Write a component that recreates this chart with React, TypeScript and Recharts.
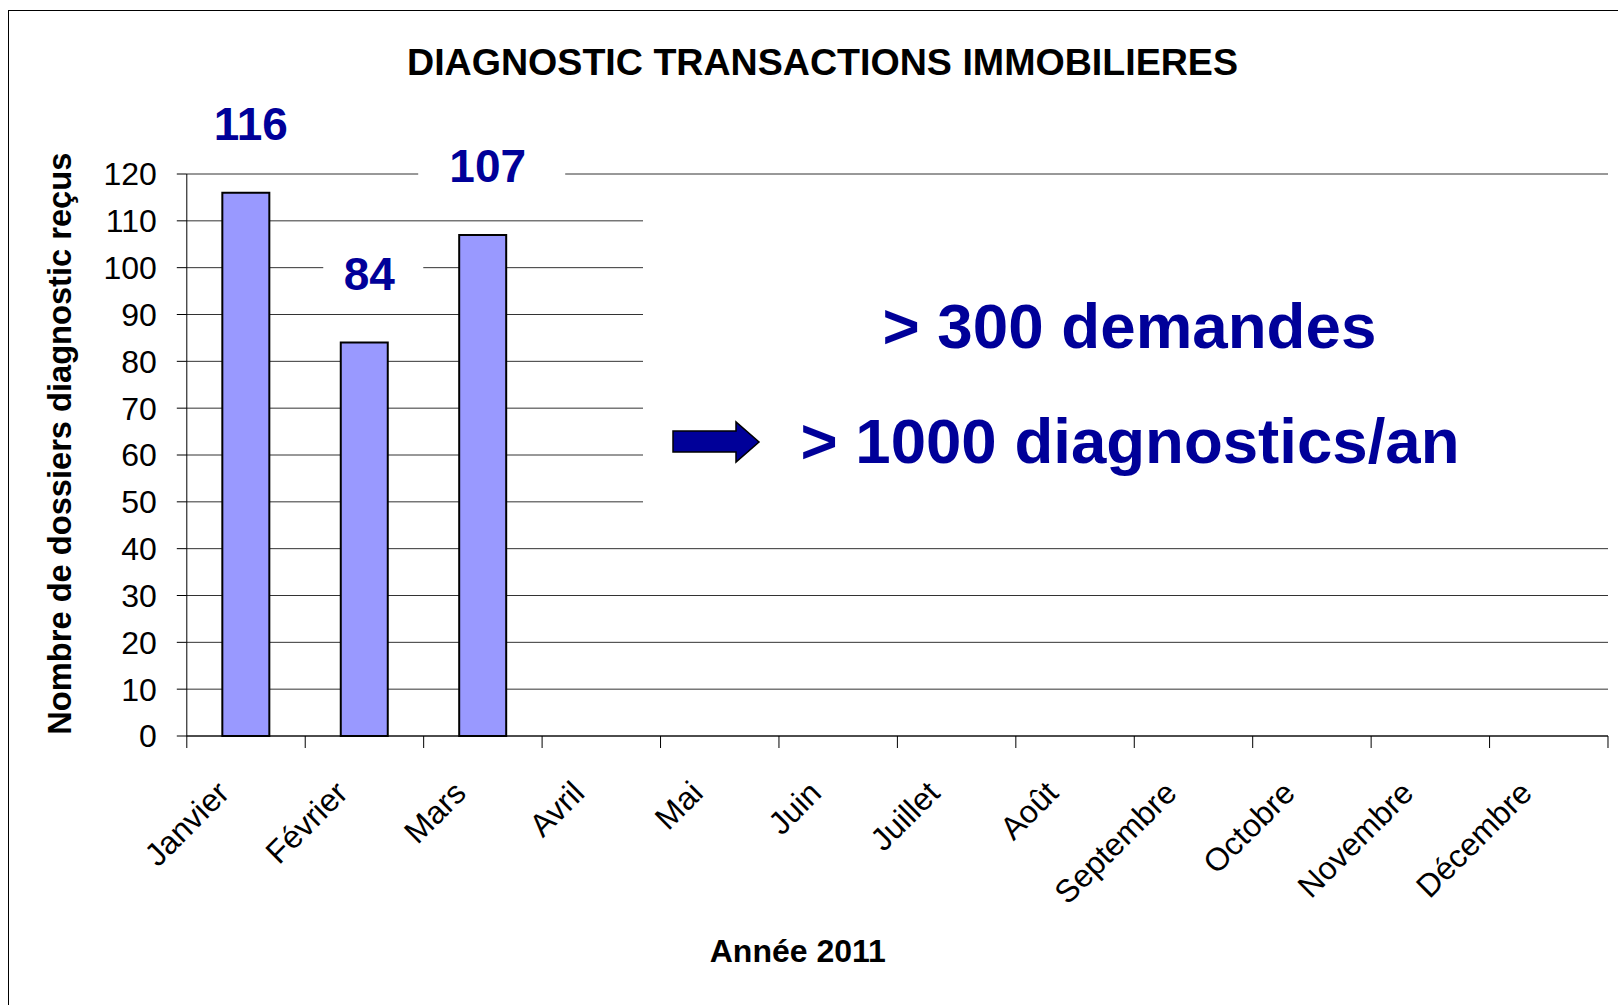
import React from 'react';
import { BarChart, Bar, XAxis, YAxis, CartesianGrid, LabelList } from 'recharts';

// ---- Data ----
const months = ['Janvier', 'Février', 'Mars', 'Avril', 'Mai', 'Juin', 'Juillet', 'Août', 'Septembre', 'Octobre', 'Novembre', 'Décembre'];
const dossiers: (number | null)[] = [116, 84, 107, null, null, null, null, null, null, null, null, null];
const yTicks = [0, 10, 20, 30, 40, 50, 60, 70, 80, 90, 100, 110, 120];
const titleText = 'DIAGNOSTIC TRANSACTIONS IMMOBILIERES';
const yAxisTitle = 'Nombre de dossiers diagnostic reçus';
const xAxisTitle = 'Année 2011';
const annotationLines = ['> 300 demandes', '> 1000 diagnostics/an'];

const data = months.map((m, i) => ({ month: m, value: dossiers[i] }));

// ---- Layout ----
const W = 1618;
const H = 1005;
const MARGIN = { top: 174, right: 10, bottom: 119, left: 86.8 };
const Y_AXIS_W = 100;
const X_AXIS_H = 150;
const PLOT_W = W - MARGIN.left - Y_AXIS_W - MARGIN.right;
const BAND = PLOT_W / months.length;
const FONT = '"Liberation Sans", Arial, Helvetica, sans-serif';
const BLUE = '#000099';

const MonthTick = (props: any) => {
  const { x, y, payload, index } = props;
  const half = BAND / 2;
  return (
    <g transform={`translate(${x},${y})`}>
      <line x1={-half} y1={0} x2={-half} y2={12} stroke="#000" strokeWidth={1} />
      {index === months.length - 1 && (
        <line x1={half} y1={0} x2={half} y2={12} stroke="#000" strokeWidth={1} />
      )}
      <text
        x={-15}
        y={59}
        transform="rotate(-45, -15, 59)"
        textAnchor="end"
        fontSize={32}
        fontFamily={FONT}
        fill="#000"
      >
        {payload.value}
      </text>
    </g>
  );
};

const DataLabel = (props: any) => {
  const { x, y, width, value } = props;
  if (value == null) return null;
  const cx = Number(x) + Number(width) / 2;
  const base = Number(y) - 53;
  const txt = String(value);
  const bw = txt.length * 47 + 6;
  return (
    <g>
      <rect x={cx + 9 - bw / 2} y={base - 46} width={bw} height={60} fill="#fff" />
      <text x={cx + 5} y={base} textAnchor="middle" fontSize={46} fontWeight="bold" fill={BLUE} fontFamily={FONT}>
        {txt}
      </text>
    </g>
  );
};

export default function App() {
  return (
    <div style={{ position: 'absolute', left: 0, top: 0, width: W, height: H, overflow: 'hidden', background: '#fff' }}>
      <div
        style={{
          position: 'absolute',
          left: 8,
          top: 10,
          width: 1640,
          height: 1020,
          border: '1px solid #000',
          boxSizing: 'border-box',
        }}
      />
      <div style={{ position: 'absolute', left: 0, top: 0 }}>
        <BarChart width={W} height={H} data={data} margin={MARGIN} barCategoryGap="30%">
          <CartesianGrid horizontal vertical={false} stroke="#333" strokeWidth={1} />
          <XAxis
            dataKey="month"
            interval={0}
            height={X_AXIS_H}
            tickLine={false}
            tickSize={0}
            tickMargin={0}
            axisLine={{ stroke: '#000', strokeWidth: 1 }}
            tick={<MonthTick />}
          />
          <YAxis
            width={Y_AXIS_W}
            domain={[0, 120]}
            ticks={yTicks}
            interval={0}
            tickSize={10}
            tickMargin={20}
            axisLine={{ stroke: '#000', strokeWidth: 1 }}
            tickLine={{ stroke: '#000', strokeWidth: 1 }}
            tick={{ fontSize: 32, fontFamily: FONT, fill: '#000' }}
          />
          <Bar dataKey="value" fill="#9999FF" stroke="#000" strokeWidth={2} isAnimationActive={false}>
            <LabelList dataKey="value" content={(p: any) => <DataLabel {...p} />} />
          </Bar>
        </BarChart>
      </div>
      <svg
        width={W}
        height={H}
        style={{ position: 'absolute', left: 0, top: 0, pointerEvents: 'none' }}
      >
        <text
          x={822.5}
          y={75}
          textAnchor="middle"
          fontSize={36}
          fontWeight="bold"
          fontFamily={FONT}
          fill="#000"
          textLength={831}
          lengthAdjust="spacingAndGlyphs"
        >
          {titleText}
        </text>
        <text
          x={0}
          y={0}
          transform="translate(71, 443.7) rotate(-90)"
          textAnchor="middle"
          fontSize={33}
          fontWeight="bold"
          fontFamily={FONT}
          fill="#000"
          textLength={582}
          lengthAdjust="spacingAndGlyphs"
        >
          {yAxisTitle}
        </text>
        <text
          x={797.8}
          y={961.5}
          textAnchor="middle"
          fontSize={32}
          fontWeight="bold"
          fontFamily={FONT}
          fill="#000"
        >
          {xAxisTitle}
        </text>
        <rect x={643} y={190} width={980} height={345} fill="#fff" />
        <text
          x={1129.4}
          y={348}
          textAnchor="middle"
          fontSize={63.5}
          fontWeight="bold"
          fontFamily={FONT}
          fill={BLUE}
          textLength={494}
          lengthAdjust="spacingAndGlyphs"
        >
          {annotationLines[0]}
        </text>
        <text
          x={1130}
          y={462.7}
          textAnchor="middle"
          fontSize={63.5}
          fontWeight="bold"
          fontFamily={FONT}
          fill={BLUE}
          textLength={659}
          lengthAdjust="spacingAndGlyphs"
        >
          {annotationLines[1]}
        </text>
        <polygon
          points="673,431 736,431 736,422 759,442 736,462 736,452 673,452"
          fill={BLUE}
          stroke="#000"
          strokeWidth={1.5}
        />
      </svg>
    </div>
  );
}
